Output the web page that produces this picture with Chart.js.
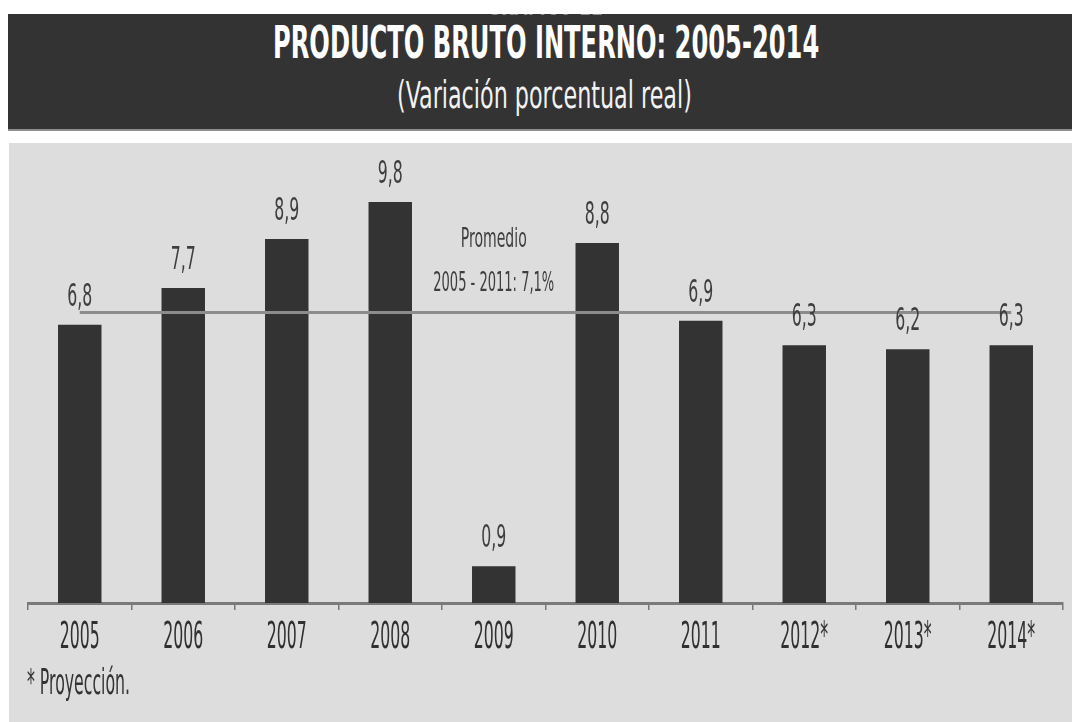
<!DOCTYPE html>
<html lang="es">
<head>
<meta charset="utf-8">
<title>Producto Bruto Interno 2005-2014</title>
<script src="https://cdn.jsdelivr.net/npm/chart.js@4.4.1/dist/chart.umd.min.js"></script>
<style>
  html, body { margin: 0; padding: 0; background: #fff; }
  body { width: 1072px; height: 722px; position: relative; overflow: hidden;
         font-family: "Liberation Sans Narrow", "DejaVu Sans Condensed", sans-serif; }
  #cabecera { position: absolute; left: 8px; top: 14px; width: 1064px; height: 115px;
              background: #333333; border-bottom: 2px solid #8e8e8e; overflow: hidden; }
  .txt { position: absolute; white-space: nowrap; line-height: 1; transform-origin: 0 0; }
  #grafico-num { left: 479px; top: -19px; font-size: 24px; font-weight: bold; color: #8a8a8a; }
  #titulo { left: 265px; top: 7px; font-size: 44px; font-weight: bold; color: #fff; }
  #subtitulo { left: 389px; top: 63px; font-size: 37px; color: #f2f2f2; }
  #panel { position: absolute; left: 9px; top: 143px; width: 1063px; height: 579px; background: #dddddd; }
  #grafico { position: absolute; left: 0; top: 143px; }
  #nota { left: 27px; top: 665px; font-size: 35px; color: #333; }
</style>
</head>
<body>
<div id="cabecera">
  <span class="txt" id="grafico-num">GRÁFICO 11</span>
  <span class="txt" id="titulo">PRODUCTO BRUTO INTERNO: 2005-2014</span>
  <span class="txt" id="subtitulo">(Variación porcentual real)</span>
</div>
<div id="panel"></div>
<canvas id="grafico" width="1072" height="579"></canvas>
<span class="txt" id="nota">* Proyección.</span>

<script>
// años (las proyecciones llevan asterisco)
const anios = ["2005", "2006", "2007", "2008", "2009", "2010", "2011", "2012*", "2013*", "2014*"];
// variación porcentual real del PBI
const variacion = [6.8, 7.7, 8.9, 9.8, 0.9, 8.8, 6.9, 6.3, 6.2, 6.3];
// promedio 2005 - 2011
const promedio = [7.1, 7.1, 7.1, 7.1, 7.1, 7.1, 7.1, 7.1, 7.1, 7.1];
const notaPromedio = ["Promedio", "2005 - 2011: 7,1%"];

const FUENTE = '"Liberation Sans Narrow", "DejaVu Sans Condensed", sans-serif';

// ajusta el ancho de un texto html comprimiéndolo en horizontal
function encajar(id, ancho) {
  const el = document.getElementById(id);
  el.style.transform = "scaleX(" + (ancho / el.offsetWidth) + ")";
}
encajar("titulo", 546);
encajar("subtitulo", 295);
encajar("grafico-num", 116);
encajar("nota", 103);

// factor horizontal para que una muestra ocupe el ancho pedido
function compresion(ctx, muestra, size, ancho) {
  ctx.save();
  ctx.font = size + "px " + FUENTE;
  const w = ctx.measureText(muestra).width;
  ctx.restore();
  return ancho / w;
}

// texto angosto: escala horizontal sobre el canvas
function textoAngosto(ctx, texto, x, y, size, sx, color) {
  ctx.save();
  ctx.translate(x, y);
  ctx.scale(sx, 1);
  ctx.font = size + "px " + FUENTE;
  ctx.fillStyle = color;
  ctx.textAlign = "center";
  ctx.textBaseline = "alphabetic";
  ctx.fillText(texto, 0, 0);
  ctx.restore();
}

const etiquetas = {
  id: "etiquetas",
  afterDraw(chart) {
    const ctx = chart.ctx;
    const x = chart.scales.x;
    const y = chart.scales.y;
    const sxValor = compresion(ctx, "6,8", 32, 25);
    const sxAnio = compresion(ctx, "2005", 38, 40);
    const sxProm = compresion(ctx, notaPromedio[0], 27, 66);
    const sxRango = compresion(ctx, notaPromedio[1], 27, 121);

    // valores sobre las barras
    variacion.forEach((v, i) => {
      const txt = v.toFixed(1).replace(".", ",");
      textoAngosto(ctx, txt, x.getPixelForValue(i), y.getPixelForValue(v) - 19, 32, sxValor, "#3e3e3e");
    });
    // años bajo el eje
    anios.forEach((a, i) => {
      textoAngosto(ctx, a, x.getPixelForValue(i), chart.chartArea.bottom + 45, 38, sxAnio, "#303030");
    });
    // nota del promedio
    const yp = y.getPixelForValue(promedio[4]);
    textoAngosto(ctx, notaPromedio[0], x.getPixelForValue(4), yp - 66, 27, sxProm, "#3e3e3e");
    textoAngosto(ctx, notaPromedio[1], x.getPixelForValue(4), yp - 22, 27, sxRango, "#3e3e3e");
  }
};

new Chart(document.getElementById("grafico"), {
  type: "bar",
  data: {
    labels: anios,
    datasets: [
      {
        type: "line",
        data: promedio,
        borderColor: "#8c8c8c",
        borderWidth: 3,
        pointRadius: 0,
        order: 0
      },
      {
        data: variacion,
        backgroundColor: "#333333",
        barPercentage: 0.42,
        categoryPercentage: 1,
        order: 1
      }
    ]
  },
  options: {
    responsive: false,
    animation: false,
    layout: { padding: { left: 28, right: 9, top: 10, bottom: 59 } },
    plugins: {
      legend: { display: false },
      tooltip: { enabled: false }
    },
    scales: {
      x: {
        grid: {
          display: true,
          drawOnChartArea: false,
          drawTicks: true,
          tickLength: 7,
          color: "#777",
          lineWidth: 1.5
        },
        border: { display: true, color: "#7a7a7a", width: 3 },
        ticks: { display: false },
        afterFit(scale) { scale.height = 60; }
      },
      y: {
        display: false,
        min: 0,
        max: 11
      }
    }
  },
  plugins: [etiquetas]
});
</script>
</body>
</html>
